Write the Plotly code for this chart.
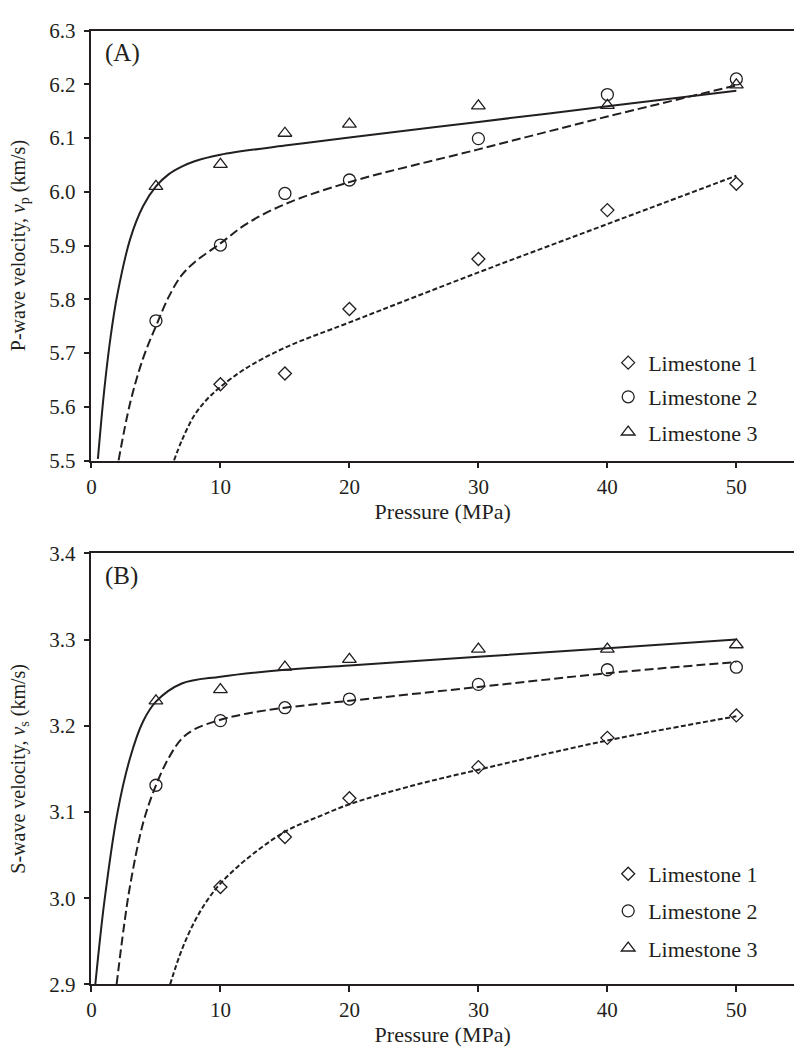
import plotly.graph_objects as go

# ---------------- data ----------------
pressure_pts = [5, 10, 15, 20, 30, 40, 50]
pressure_pts_l1 = [10, 15, 20, 30, 40, 50]

# Panel A : P-wave velocity (km/s)
vp_l1 = [5.642, 5.662, 5.782, 5.875, 5.966, 6.015]
vp_l2 = [5.760, 5.901, 5.997, 6.022, 6.099, 6.181, 6.210]
vp_l3 = [6.010, 6.051, 6.109, 6.126, 6.160, 6.161, 6.199]

# fitted curves, panel A
fitA_l3_p = [0.5, 1, 1.5, 2, 3, 4, 5, 6, 7, 8, 10, 15, 20, 30, 40, 50]
fitA_l3_v = [5.503, 5.633, 5.733, 5.808, 5.912, 5.973, 6.010, 6.033, 6.047, 6.057,
             6.069, 6.086, 6.101, 6.130, 6.159, 6.188]
fitA_l2_p = [2.1, 3, 4, 5, 6, 7, 8, 10, 12, 15, 20, 30, 40, 50]
fitA_l2_v = [5.500, 5.607, 5.690, 5.750, 5.805, 5.845, 5.869, 5.904, 5.940, 5.977,
             6.018, 6.079, 6.140, 6.198]
fitA_l1_p = [6.4, 7, 8, 9, 10, 12, 15, 20, 30, 40, 50]
fitA_l1_v = [5.500, 5.537, 5.585, 5.615, 5.637, 5.672, 5.710, 5.757, 5.850, 5.940, 6.030]

# Panel B : S-wave velocity (km/s)
vs_l1 = [3.013, 3.071, 3.116, 3.152, 3.186, 3.212]
vs_l2 = [3.131, 3.206, 3.221, 3.231, 3.248, 3.265, 3.268]
vs_l3 = [3.229, 3.242, 3.268, 3.277, 3.289, 3.289, 3.294]

fitB_l3_p = [0.3, 1, 2, 3, 4, 5, 7, 10, 15, 20, 30, 40, 50]
fitB_l3_v = [2.900, 2.996, 3.098, 3.163, 3.205, 3.228, 3.249, 3.257, 3.265, 3.270,
             3.280, 3.290, 3.300]
fitB_l2_p = [1.95, 2.5, 3, 4, 5, 6, 7, 8, 10, 12, 15, 20, 30, 40, 50]
fitB_l2_v = [2.900, 2.965, 3.015, 3.087, 3.131, 3.163, 3.185, 3.196, 3.207, 3.214,
             3.221, 3.229, 3.245, 3.261, 3.274]
fitB_l1_p = [6.1, 7, 8, 9, 10, 12, 15, 18, 20, 25, 30, 40, 50]
fitB_l1_v = [2.900, 2.940, 2.973, 2.998, 3.017, 3.045, 3.077, 3.097, 3.109, 3.131,
             3.149, 3.183, 3.211]

names = ["Limestone 1", "Limestone 2", "Limestone 3"]

# ---------------- styling ----------------
INK = "#231f20"
FONT = "'Liberation Serif', 'Times New Roman', 'DejaVu Serif', serif"
W, H = 794, 1055

fig = go.Figure()

line_styles = {
    "l3": dict(color=INK, width=2, dash="solid"),
    "l2": dict(color=INK, width=2, dash="9px,4px"),
    "l1": dict(color=INK, width=2, dash="5px,2.5px"),
}

legend_rows = {"A": [359, 394, 430], "B": [882, 920, 958]}
legend_ids = {"A": ["legend", "legend2", "legend3"], "B": ["legend4", "legend5", "legend6"]}

def add_panel(tag, xa, ya, fits, pts):
    for (px, py, key) in fits:
        fig.add_trace(go.Scatter(x=px, y=py, mode="lines", line=line_styles[key],
                                 line_shape="spline", showlegend=False,
                                 hoverinfo="skip", xaxis=xa, yaxis=ya))
    symbols = ["diamond-open", "circle-open", "triangle-up-open"]
    sizes = [10, 12, 12]
    for i, (px, py) in enumerate(pts):
        fig.add_trace(go.Scatter(x=px, y=py, mode="markers", name=names[i],
                                 marker=dict(symbol=symbols[i], size=sizes[i], color=INK,
                                             line=dict(color=INK, width=1.3)),
                                 legend=legend_ids[tag][i], xaxis=xa, yaxis=ya))

add_panel("A", "x", "y",
          [(fitA_l3_p, fitA_l3_v, "l3"), (fitA_l2_p, fitA_l2_v, "l2"), (fitA_l1_p, fitA_l1_v, "l1")],
          [(pressure_pts_l1, vp_l1), (pressure_pts, vp_l2), (pressure_pts, vp_l3)])
add_panel("B", "x2", "y2",
          [(fitB_l3_p, fitB_l3_v, "l3"), (fitB_l2_p, fitB_l2_v, "l2"), (fitB_l1_p, fitB_l1_v, "l1")],
          [(pressure_pts_l1, vs_l1), (pressure_pts, vs_l2), (pressure_pts, vs_l3)])

x_left = 87 / W
topA, botA = (H - 19) / H, (H - 459) / H
topB, botB = (H - 554) / H, (H - 995) / H

xcommon = dict(range=[0, 54.47], dtick=10, tick0=0, showline=True, linecolor=INK, linewidth=1.5,
               mirror=True, ticks="outside", ticklen=6, tickwidth=1.5, tickcolor=INK,
               showgrid=False, zeroline=False,
               tickfont=dict(family=FONT, size=21, color=INK),
               title=dict(text="Pressure (MPa)", font=dict(family=FONT, size=22, color=INK), standoff=3))
ycommon = dict(showline=True, linecolor=INK, linewidth=1.5, ticks="outside", ticklen=6,
               tickwidth=1.5, tickcolor=INK, showgrid=False, zeroline=False, tickformat=".1f",
               dtick=0.1, tickfont=dict(family=FONT, size=21, color=INK), ticklabelstandoff=4)

legend_layout = {}
for tag in ("A", "B"):
    for i, lid in enumerate(legend_ids[tag]):
        legend_layout[lid] = dict(x=607 / W, y=(H - legend_rows[tag][i]) / H,
                                  xanchor="left", yanchor="middle",
                                  bgcolor="rgba(0,0,0,0)",
                                  font=dict(family=FONT, size=22, color=INK),
                                  itemwidth=30, tracegroupgap=0)

fig.update_layout(
    width=W, height=H, margin=dict(l=0, r=0, t=0, b=0),
    paper_bgcolor="white", plot_bgcolor="white",
    font=dict(family=FONT, color=INK),
    xaxis=dict(domain=[x_left, 1], anchor="y", **xcommon),
    yaxis=dict(domain=[botA, topA], anchor="x", range=[5.5, 6.3], tick0=5.5,
               title=dict(text="P-wave velocity, <i>v</i><sub>p</sub> (km/s)",
                          font=dict(family=FONT, size=20, color=INK), standoff=18),
               **ycommon),
    xaxis2=dict(domain=[x_left, 1], anchor="y2", **xcommon),
    yaxis2=dict(domain=[botB, topB], anchor="x2", range=[2.9, 3.4], tick0=2.9,
                title=dict(text="S-wave velocity, <i>v</i><sub>s</sub> (km/s)",
                           font=dict(family=FONT, size=20, color=INK), standoff=18),
                **ycommon),
    annotations=[
        dict(text="(A)", x=99 / W, y=(H - 42) / H, xref="paper", yref="paper",
             xanchor="left", yanchor="middle", showarrow=False,
             font=dict(family=FONT, size=25, color=INK)),
        dict(text="(B)", x=99 / W, y=(H - 577) / H, xref="paper", yref="paper",
             xanchor="left", yanchor="middle", showarrow=False,
             font=dict(family=FONT, size=25, color=INK)),
    ],
    **legend_layout,
)

fig.write_html("out.html")
